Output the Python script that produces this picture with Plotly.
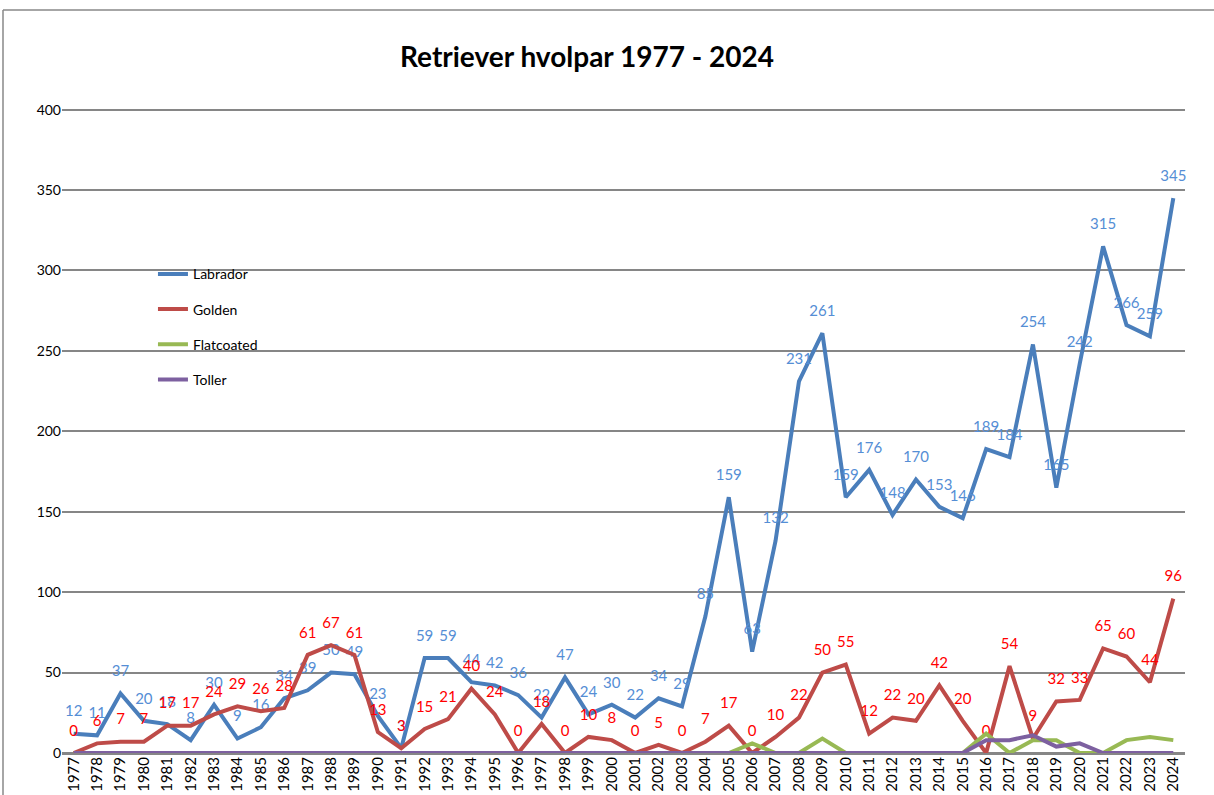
import plotly.graph_objects as go

years = [str(y) for y in range(1977, 2025)]

labrador = [12, 11, 37, 20, 18, 8, 30, 9, 16, 34, 39, 50, 49, 23, 3,
            59, 59, 44, 42, 36, 22, 47, 24, 30, 22, 34, 29, 85, 159, 63,
            132, 231, 261, 159, 176, 148, 170, 153, 146, 189, 184, 254, 165, 242,
            315, 266, 259, 345]
golden = [0, 6, 7, 7, 17, 17, 24, 29, 26, 28, 61, 67, 61, 13, 3,
          15, 21, 40, 24, 0, 18, 0, 10, 8, 0, 5, 0, 7, 17, 0,
          10, 22, 50, 55, 12, 22, 20, 42, 20, 0, 54, 9, 32, 33,
          65, 60, 44, 96]
flatcoated = [0] * 28 + [0, 6, 0, 0, 9, 0, 0, 0, 0, 0, 0, 12, 0, 8, 8, 0, 0, 8, 10, 8]
toller = [0] * 39 + [8, 8, 11, 4, 6, 0, 0, 0, 0]

FONT = "Lato"

fig = go.Figure()
fig.add_trace(go.Scatter(x=years, y=labrador, name="Labrador", mode="lines+markers+text",
                         line=dict(color="#4A7EBB", width=4),
                         marker=dict(size=20, color="rgba(0,0,0,0)"),
                         text=[str(v) for v in labrador], textposition="top center",
                         textfont=dict(color="#558ED5", size=15, family=FONT),
                         legendgroup="a", cliponaxis=False))
fig.add_trace(go.Scatter(x=years, y=golden, name="Golden", mode="lines+markers+text",
                         line=dict(color="#BE4B48", width=4),
                         marker=dict(size=20, color="rgba(0,0,0,0)"),
                         text=[str(v) for v in golden], textposition="top center",
                         textfont=dict(color="#FF0000", size=15, family=FONT),
                         legendgroup="b", cliponaxis=False))
fig.add_trace(go.Scatter(x=years, y=flatcoated, name="Flatcoated", mode="lines",
                         line=dict(color="#98B954", width=4), legendgroup="c"))
fig.add_trace(go.Scatter(x=years, y=toller, name="Toller", mode="lines",
                         line=dict(color="#7D60A0", width=4), legendgroup="d"))

fig.update_layout(
    width=1214, height=795,
    margin=dict(l=62, r=29, t=108, b=42),
    paper_bgcolor="white", plot_bgcolor="white",
    font=dict(family=FONT, color="black", size=14),
    title=dict(text="<b>Retriever hvolpar 1977 - 2024</b>", x=587 / 1214, xanchor="center",
               y=1 - 57 / 795, yanchor="middle", font=dict(size=28, family=FONT, color="black")),
    showlegend=True,
    legend=dict(x=0.081, y=0.767, xanchor="left", yanchor="top", bgcolor="rgba(0,0,0,0)",
                traceorder="grouped", tracegroupgap=14, font=dict(size=14, family=FONT),
                itemclick=False),
    xaxis=dict(type="category", range=[-0.5, 47.5], tickangle=-90, showgrid=False,
               showline=False, ticks="", automargin=False,
               tickfont=dict(size=15, family=FONT, color="black")),
    yaxis=dict(range=[0, 401], tickvals=[0, 50, 100, 150, 200, 250, 300, 350, 400],
               showgrid=True, gridcolor="#868686", gridwidth=1.5,
               zeroline=True, zerolinecolor="#868686", zerolinewidth=3,
               showline=False, ticks="", automargin=False,
               tickfont=dict(size=14, family=FONT, color="black")),
)

# outer chart border (partially visible in the reference)
fig.add_shape(type="line", xref="paper", yref="paper",
              x0=(3 - 62) / 1123, x1=(1214 - 62) / 1123, y0=(753 - 10) / 645, y1=(753 - 10) / 645,
              line=dict(color="#888888", width=1.5))
fig.add_shape(type="line", xref="paper", yref="paper",
              x0=(3 - 62) / 1123, x1=(3 - 62) / 1123, y0=(753 - 10) / 645, y1=(753 - 800) / 645,
              line=dict(color="#888888", width=1.5))

fig.write_html("out.html", config={"displayModeBar": False},
               post_script="document.body.style.margin='0';document.body.style.overflow='hidden';")
